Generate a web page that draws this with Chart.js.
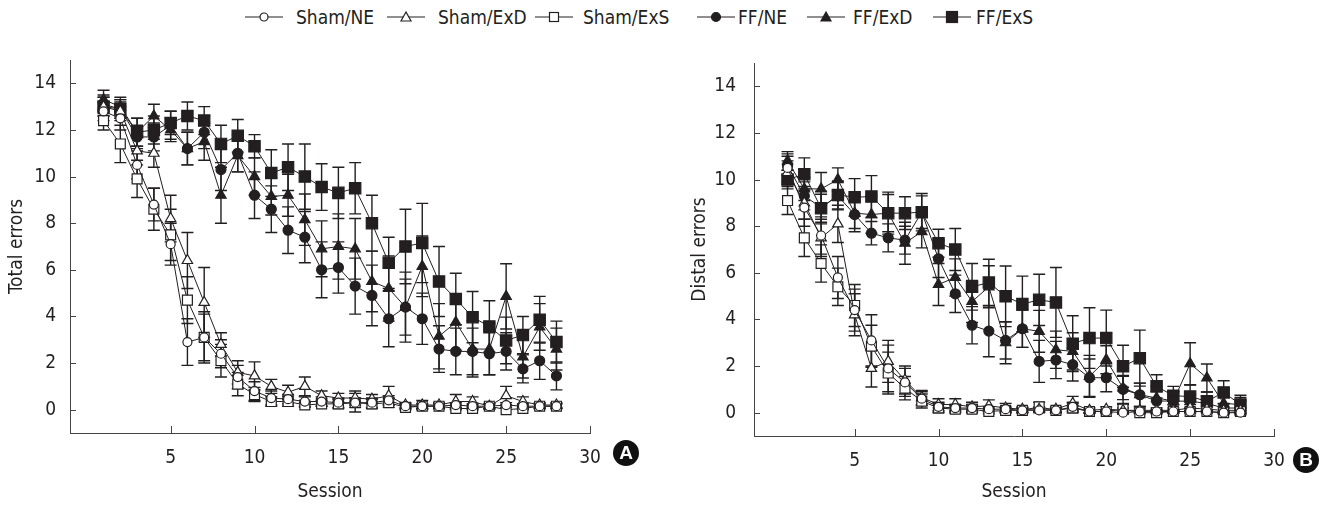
<!DOCTYPE html>
<html>
<head>
<meta charset="utf-8">
<script src="https://cdn.jsdelivr.net/npm/chart.js@4.4.1/dist/chart.umd.min.js"></script>
<style>
  body { margin: 0; background: #fff; }
  #wrap { position: relative; width: 1326px; height: 505px; overflow: hidden;
    font-family: "Liberation Sans Narrow", "Arial Narrow", "DejaVu Sans Condensed", sans-serif; color: #231f20; }
  .panel { position: absolute; top: 0; }
  .lg { position: absolute; top: 6px; font-size: 19px; line-height: 22px; white-space: nowrap; }
  .lgm { position: absolute; top: 10px; }
  .badge { position: absolute; width: 26px; height: 26px; border-radius: 50%; background: #111; color: #fff;
    font: bold 19px/26px "Liberation Sans", Arial, sans-serif; text-align: center; }
</style>
</head>
<body>
<div id="wrap">
  <div id="legend"></div>
  <canvas id="chartA" class="panel" width="663" height="505" style="left:0"></canvas>
  <canvas id="chartB" class="panel" width="663" height="505" style="left:663px"></canvas>
  <div class="badge" style="left:613px;top:440px">A</div>
  <div class="badge" style="left:1293px;top:447px">B</div>
</div>
<script>
// datos
const sessions = [1,2,3,4,5,6,7,8,9,10,11,12,13,14,15,16,17,18,19,20,21,22,23,24,25,26,27,28];
const seriesNames = ['Sham/NE', 'Sham/ExD', 'Sham/ExS', 'FF/NE', 'FF/ExD', 'FF/ExS'];
const xTicks = [5, 10, 15, 20, 25, 30];
const yTicks = [0, 2, 4, 6, 8, 10, 12, 14];

// A - Total errors
const totalShamNE  = [12.8,12.5,10.5,8.8,7.1,2.9,3.1,2.4,1.4,0.8,0.5,0.45,0.35,0.35,0.3,0.3,0.3,0.4,0.15,0.15,0.15,0.2,0.15,0.15,0.2,0.15,0.15,0.15];
const totalShamExD = [13.0,12.8,11.1,11.0,8.2,6.4,4.6,2.8,1.6,1.45,1.0,0.75,1.0,0.6,0.5,0.5,0.45,0.6,0.2,0.2,0.2,0.35,0.35,0.15,0.6,0.35,0.2,0.2];
const totalShamExS = [12.4,11.4,9.9,8.6,7.5,4.7,3.1,2.1,1.1,0.65,0.35,0.35,0.2,0.25,0.25,0.3,0.25,0.3,0.1,0.15,0.15,0.05,0.05,0.15,0.0,0.05,0.15,0.15];
const totalFFNE    = [13.1,12.9,11.7,11.7,12.2,11.2,11.9,10.3,11.0,9.2,8.6,7.7,7.4,6.0,6.1,5.3,4.9,3.9,4.4,3.9,2.6,2.5,2.5,2.4,2.5,1.75,2.1,1.45];
const totalFFExD   = [13.3,13.0,11.9,12.6,12.0,11.2,11.5,9.2,10.9,10.0,9.15,9.2,8.15,6.9,7.0,6.9,5.5,5.2,4.4,6.15,3.15,3.75,2.6,2.6,4.86,2.26,3.55,2.6];
const totalFFExS   = [13.0,12.9,11.9,12.0,12.3,12.6,12.4,11.4,11.75,11.3,10.15,10.4,10.0,9.55,9.3,9.5,8.0,6.3,7.0,7.15,5.5,4.75,3.97,3.57,2.97,3.2,3.86,2.9];

const totalShamNEErr  = [0.4,0.5,0.6,0.7,0.9,1.0,1.1,0.6,0.5,0.4,0.3,0.2,0.2,0.2,0.2,0.2,0.2,0.2,0.1,0.1,0.1,0.1,0.1,0.1,0.1,0.1,0.1,0.1];
const totalShamExDErr = [0.4,0.4,0.6,0.6,1.0,1.2,1.5,0.5,0.5,0.6,0.3,0.3,0.4,0.2,0.2,0.3,0.2,0.4,0.1,0.2,0.1,0.3,0.2,0.1,0.4,0.2,0.1,0.1];
const totalShamExSErr = [0.4,0.8,0.8,0.9,1.1,1.0,1.0,0.7,0.5,0.3,0.2,0.2,0.1,0.1,0.2,0.4,0.2,0.2,0.1,0.1,0.1,0.05,0.05,0.1,0.0,0.05,0.1,0.1];
const totalFFNEErr    = [0.4,0.4,0.5,0.6,0.6,0.7,0.7,0.9,0.8,1.0,1.0,1.0,1.1,1.2,1.1,1.2,1.3,1.2,1.2,1.1,1.0,1.0,1.0,0.9,0.8,0.6,0.8,0.6];
const totalFFExDErr   = [0.4,0.4,0.6,0.5,0.5,0.7,0.8,1.2,0.7,0.8,0.8,0.9,1.1,1.2,1.4,1.3,1.3,1.4,1.5,1.3,1.4,1.2,1.2,1.1,1.4,0.9,1.0,0.9];
const totalFFExSErr   = [0.4,0.4,0.6,0.6,0.5,0.6,0.6,0.8,0.7,0.5,1.0,1.0,1.4,1.0,1.1,1.1,1.2,1.1,1.6,1.7,1.5,1.1,1.1,1.1,1.0,0.8,1.0,0.9];

// B - Distal errors
const distalShamNE  = [10.5,8.8,7.6,5.8,4.4,3.1,1.9,1.3,0.6,0.25,0.2,0.2,0.15,0.15,0.1,0.1,0.1,0.25,0.05,0.05,0.0,0.05,0.05,0.05,0.05,0.05,0.0,0.0];
const distalShamExD = [10.3,9.0,7.5,8.1,4.2,1.9,2.2,1.4,0.65,0.35,0.35,0.25,0.3,0.2,0.15,0.15,0.15,0.4,0.1,0.15,0.1,0.1,0.1,0.1,0.2,0.15,0.1,0.1];
const distalShamExS = [9.1,7.5,6.4,5.4,4.6,2.85,1.7,1.05,0.5,0.2,0.15,0.15,0.05,0.1,0.1,0.25,0.1,0.2,0.05,0.05,0.15,0.0,0.0,0.05,0.05,0.05,0.0,0.05];
const distalFFNE    = [10.6,9.3,8.8,9.3,8.5,7.7,7.5,7.4,8.6,6.6,5.1,3.75,3.5,3.1,3.6,2.2,2.26,2.06,1.5,1.5,1.0,0.77,0.5,0.5,0.49,0.4,0.2,0.2];
const distalFFExD   = [10.8,9.6,9.6,10.0,8.56,8.5,8.56,7.27,7.77,5.5,5.8,4.77,5.4,3.0,3.6,3.49,2.7,2.63,1.56,2.27,1.06,0.77,0.63,0.5,2.1,1.49,0.4,0.35];
const distalFFExS   = [10.0,10.23,8.77,9.34,9.24,9.27,8.56,8.56,8.6,7.27,7.0,5.4,5.58,4.99,4.66,4.84,4.73,2.96,3.2,3.2,1.99,2.34,1.13,0.73,0.69,0.49,0.87,0.35];

const distalShamNEErr  = [0.6,0.8,0.8,0.9,0.9,1.1,1.0,0.6,0.3,0.2,0.15,0.15,0.1,0.1,0.1,0.1,0.1,0.2,0.05,0.05,0.05,0.05,0.05,0.05,0.05,0.05,0.05,0.05];
const distalShamExDErr = [0.5,0.7,0.8,0.8,0.9,0.8,0.9,0.6,0.3,0.25,0.25,0.2,0.25,0.2,0.1,0.1,0.1,0.3,0.1,0.1,0.1,0.1,0.1,0.1,0.15,0.1,0.1,0.1];
const distalShamExSErr = [0.6,0.8,0.8,0.8,0.9,0.9,0.9,0.5,0.3,0.2,0.15,0.15,0.1,0.1,0.1,0.2,0.1,0.2,0.05,0.05,0.2,0.05,0.05,0.05,0.05,0.05,0.05,0.05];
const distalFFNEErr    = [0.4,0.6,0.7,0.6,0.6,0.5,0.6,0.6,0.7,0.8,0.8,0.8,1.1,0.8,0.8,0.9,0.8,0.7,0.8,0.6,0.6,0.5,0.4,0.4,0.3,0.3,0.2,0.3];
const distalFFExDErr   = [0.4,0.5,0.7,0.5,0.8,0.8,0.9,0.9,0.7,0.9,0.8,0.9,0.9,0.9,0.8,0.9,0.8,0.8,0.9,0.6,0.5,0.5,0.5,0.4,0.9,0.6,0.4,0.3];
const distalFFExSErr   = [0.4,0.7,0.6,0.6,0.8,0.9,0.8,0.7,0.8,0.6,0.9,1.0,1.0,1.3,1.2,1.1,1.5,1.2,1.3,1.2,0.9,1.2,0.5,0.4,0.5,0.4,0.5,0.4];

const INK = '#231f20';
const FONT = '"Liberation Sans Narrow", "Arial Narrow", "DejaVu Sans Condensed", sans-serif';

// estilo de cada serie: [pointStyle, radio, relleno]
const styles = [
  ['circle', 4.5, '#fff'],
  ['triangle', 6, '#fff'],
  ['rect', 7, '#fff'],
  ['circle', 5, INK],
  ['triangle', 6, INK],
  ['rect', 8, INK]
];

function makeDatasets(values, errors) {
  return values.map((vals, k) => ({
    label: seriesNames[k],
    data: sessions.map((s, i) => ({ x: s, y: vals[i] })),
    err: errors[k],
    borderColor: INK,
    borderWidth: 1,
    pointStyle: styles[k][0],
    pointRadius: styles[k][1],
    pointBackgroundColor: styles[k][2],
    pointBorderColor: INK,
    pointBorderWidth: 1.2,
    tension: 0,
    fill: false
  }));
}

// barras de error con la escala y
const errorBars = {
  id: 'errorBars',
  beforeDatasetsDraw(chart) {
    const ctx = chart.ctx, ys = chart.scales.y;
    ctx.save();
    ctx.strokeStyle = INK;
    ctx.lineWidth = 1.4;
    chart.data.datasets.forEach((ds, i) => {
      chart.getDatasetMeta(i).data.forEach((pt, j) => {
        const e = ds.err[j];
        if (!e) return;
        const v = ds.data[j].y;
        const top = ys.getPixelForValue(v + e), bot = ys.getPixelForValue(v - e);
        ctx.beginPath();
        ctx.moveTo(pt.x, top); ctx.lineTo(pt.x, bot);
        ctx.moveTo(pt.x - 6, top); ctx.lineTo(pt.x + 6, top);
        ctx.moveTo(pt.x - 6, bot); ctx.lineTo(pt.x + 6, bot);
        ctx.stroke();
      });
    });
    ctx.restore();
  }
};

// marcas de los ejes hacia adentro
const innerTicks = {
  id: 'innerTicks',
  afterDraw(chart) {
    const { ctx, scales: { x, y } } = chart;
    ctx.save();
    ctx.strokeStyle = '#444';
    ctx.lineWidth = 1;
    ctx.beginPath();
    xTicks.forEach(v => {
      const px = Math.round(x.getPixelForValue(v)) + 0.5;
      ctx.moveTo(px, y.bottom); ctx.lineTo(px, y.bottom - 7);
    });
    yTicks.forEach(v => {
      const py = Math.round(y.getPixelForValue(v)) + 0.5;
      ctx.moveTo(x.left, py); ctx.lineTo(x.left + 6, py);
    });
    ctx.stroke();
    ctx.restore();
  }
};

function makeChart(id, title, values, errors, box) {
  return new Chart(document.getElementById(id), {
    type: 'line',
    data: { datasets: makeDatasets(values, errors) },
    options: {
      responsive: false,
      animation: false,
      events: [],
      layout: { padding: { left: 0, top: box.top, right: box.right, bottom: 0 } },
      plugins: { legend: { display: false }, tooltip: { enabled: false } },
      scales: {
        x: {
          type: 'linear', min: -1, max: 30,
          afterBuildTicks: s => { s.ticks = xTicks.map(v => ({ value: v })); },
          afterFit: s => { s.height = box.xh; },
          grid: { display: false, drawTicks: false },
          border: { display: true, color: '#444', width: 1 },
          ticks: { padding: 14, color: INK, font: { family: FONT, size: 19 }, maxRotation: 0 },
          title: { display: true, text: 'Session', color: INK, font: { family: FONT, size: 19 }, padding: { top: 0, bottom: 2 } }
        },
        y: {
          min: -1, max: 15,
          afterBuildTicks: s => { s.ticks = yTicks.map(v => ({ value: v })); },
          afterFit: s => { s.width = box.yw; },
          grid: { display: false, drawTicks: false },
          border: { display: true, color: '#444', width: 1 },
          ticks: { padding: box.ypad, color: INK, font: { family: FONT, size: 19 } },
          title: { display: true, text: title, color: INK, font: { family: FONT, size: 19 }, padding: { top: box.tpad, bottom: 0 } }
        }
      }
    },
    plugins: [errorBars, innerTicks]
  });
}

makeChart('chartA', 'Total errors',
  [totalShamNE, totalShamExD, totalShamExS, totalFFNE, totalFFExD, totalFFExS],
  [totalShamNEErr, totalShamExDErr, totalShamExSErr, totalFFNEErr, totalFFExDErr, totalFFExSErr],
  { top: 60, right: 73, xh: 72, yw: 70, ypad: 14, tpad: 6 });

makeChart('chartB', 'Distal errors',
  [distalShamNE, distalShamExD, distalShamExS, distalFFNE, distalFFExD, distalFFExS],
  [distalShamNEErr, distalShamExDErr, distalShamExSErr, distalFFNEErr, distalFFExDErr, distalFFExSErr],
  { top: 63, right: 52, xh: 69, yw: 91, ypad: 18, tpad: 26 });

// leyenda común arriba
const legendMarkX = [245, 387, 535, 697, 807, 933];
const legendTextX = [296, 438, 583, 738, 853, 976];
const legend = document.getElementById('legend');
seriesNames.forEach((name, k) => {
  const [shape, , fill] = styles[k];
  const c = 19;
  let mark;
  if (shape === 'circle') mark = `<circle cx="${c}" cy="7" r="${k < 3 ? 4 : 4.5}" fill="${fill}" stroke="${INK}" stroke-width="1.2"/>`;
  else if (shape === 'triangle') mark = `<polygon points="${c},2 ${c - 5},11 ${c + 5},11" fill="${fill}" stroke="${INK}" stroke-width="1.2"/>`;
  else { const h = k < 3 ? 4.5 : 5.5; mark = `<rect x="${c - h}" y="${7 - h}" width="${2 * h}" height="${2 * h}" fill="${fill}" stroke="${INK}" stroke-width="1.2"/>`; }
  legend.insertAdjacentHTML('beforeend',
    `<svg class="lgm" style="left:${legendMarkX[k]}px" width="38" height="14"><line x1="0" y1="7" x2="38" y2="7" stroke="${INK}" stroke-width="1.2"/>${mark}</svg>` +
    `<div class="lg" style="left:${legendTextX[k]}px">${name}</div>`);
});
</script>
</body>
</html>
